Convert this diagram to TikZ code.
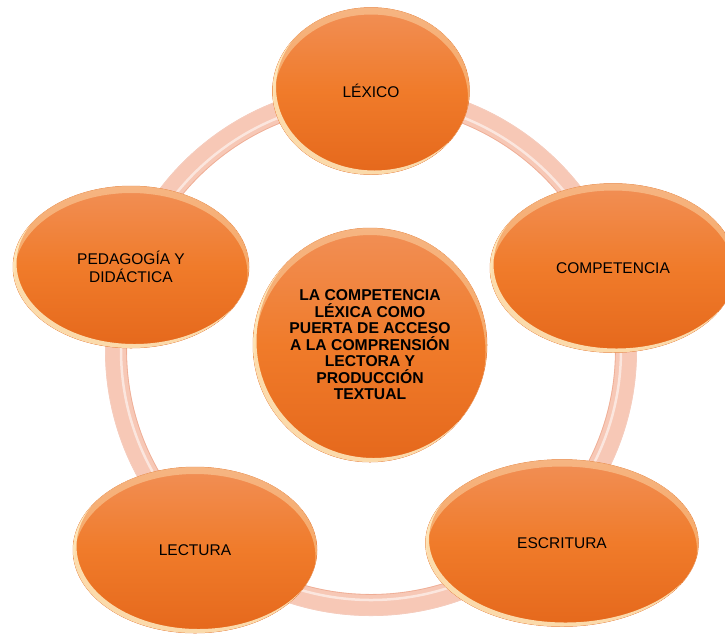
\documentclass[tikz,border=0pt]{standalone}
\usepackage{fontspec}
\setmainfont{Liberation Sans}
\usetikzlibrary{shapes.geometric}

\definecolor{orTop}{RGB}{241,143,86}
\definecolor{orMid}{RGB}{240,123,42}
\definecolor{orBot}{RGB}{229,104,28}
\definecolor{orEdge}{RGB}{226,104,32}
\definecolor{ringC}{RGB}{247,200,182}
\definecolor{ringE}{RGB}{238,172,148}
\definecolor{glow}{RGB}{255,238,196}

\tikzset{
  bubble/.style={ellipse, inner sep=0pt, draw=orEdge, line width=0.5pt,
    top color=orTop, bottom color=orBot, middle color=orMid,
    align=center, text=black, font=\fontsize{15.5}{17.8}\selectfont},
  hub/.style={bubble, font=\bfseries\fontsize{15.7}{16.5}\selectfont},
  ringbase/.style={draw=ringC, line width=22pt},
  ringshine/.style={draw=white, line width=2.5pt, opacity=.55},
  ringedge/.style={draw=ringE, line width=0.6pt}
}

\newcommand\glossy[3]{%
  \begin{scope}
    \clip (#1) ellipse [x radius=#2, y radius=#3];
    \fill[glow, opacity=.4, even odd rule]
      (#1) ellipse [x radius=#2, y radius=#3]
      ([yshift=-7pt]#1) ellipse [x radius=#2-1.5, y radius=#3];
    \fill[glow, opacity=.85, even odd rule]
      (#1) ellipse [x radius=#2, y radius=#3]
      ([xshift=3.5pt,yshift=4pt]#1) ellipse [x radius=#2, y radius=#3];
  \end{scope}}

\begin{document}
\begin{tikzpicture}[x=1pt,y=-1pt]
  \useasboundingbox (0,0) rectangle (725,633);
  \clip (0,0) rectangle (725,633);

  % ring
  \coordinate (rc) at (371,350);
  \draw[ringbase] (rc) circle [radius=255];
  \draw[ringedge] (rc) circle [radius=244.5];
  \draw[ringedge, draw=ringE!60] (rc) circle [radius=265.5];
  \draw[ringshine] (rc) circle [radius=250];

  % outer bubbles
  \node[bubble, minimum width=197pt, minimum height=167pt] (lex) at (371,91) {LÉXICO};
  \glossy{lex.center}{98.5}{83.5}

  \node[bubble, minimum width=246pt, minimum height=169pt] (comp) at (613,268) {COMPETENCIA};
  \glossy{comp.center}{123}{84.5}

  \node[bubble, minimum width=273pt, minimum height=167pt] (esc) at (562,543) {ESCRITURA};
  \glossy{esc.center}{136.5}{83.5}

  \node[bubble, minimum width=244pt, minimum height=166pt] (lec) at (195,550) {LECTURA};
  \glossy{lec.center}{122}{83}

  \node[bubble, minimum width=236pt, minimum height=162pt] (ped) at (131,267) {PEDAGOGÍA Y\\DIDÁCTICA};
  \glossy{ped.center}{118}{81}

  % centre
  \node[hub, minimum width=234pt, minimum height=234pt] (hub) at (370,345)
    {LA COMPETENCIA\\LÉXICA COMO\\PUERTA DE ACCESO\\A LA COMPRENSIÓN\\LECTORA Y\\PRODUCCIÓN\\TEXTUAL};
  \glossy{hub.center}{117}{117}
\end{tikzpicture}
\end{document}
